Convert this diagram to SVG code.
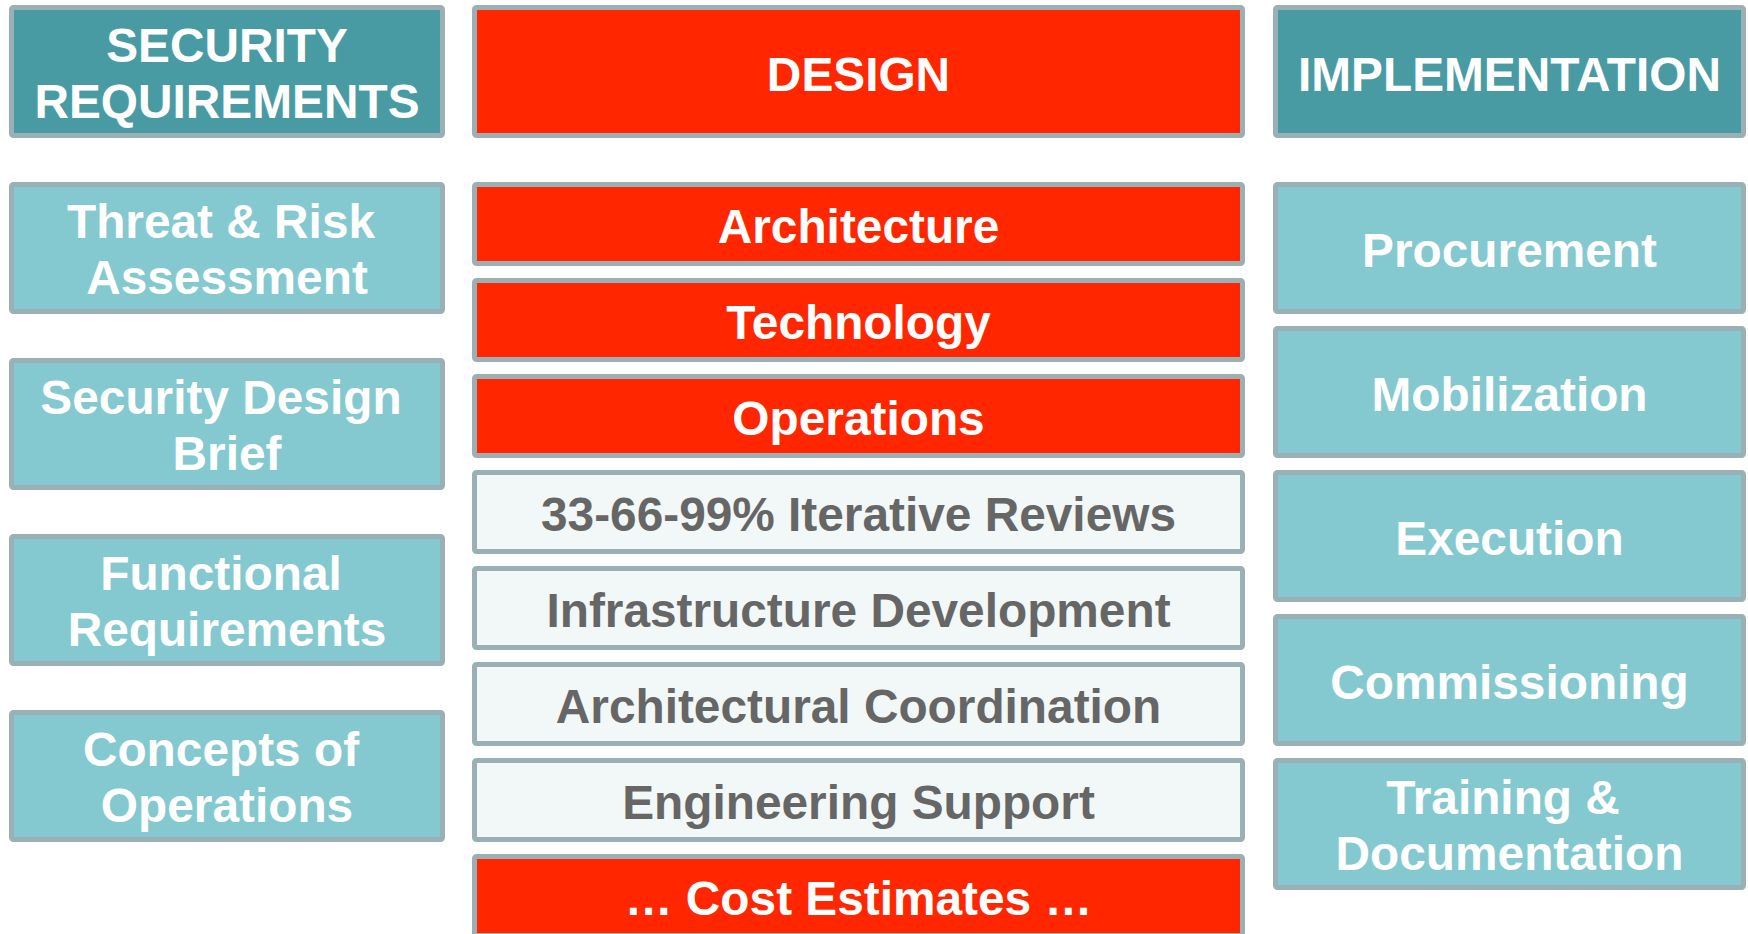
<svg xmlns="http://www.w3.org/2000/svg" width="1748" height="934" viewBox="0 0 1748 934">
<style>
  .box{stroke:#9AB0B4;stroke-width:5}
  .hdr{fill:#499BA3}
  .lt{fill:#84C9CF}
  .red{fill:#FF2600}
  .pale{fill:#F2F7F7}
  text{font-family:"Liberation Sans",Arial,sans-serif;font-weight:bold;font-size:47.8px;text-anchor:middle;fill:#FFFFFF}
  .gray{fill:#666666}
</style>
<rect width="1748" height="934" fill="#FFFFFF"/>
<g id="connectors"/>
<!-- Left column -->
<g id="security-requirements">
  <rect class="box hdr" x="11.5" y="7.5" width="431" height="128" rx="2"/>
  <text x="227" y="62">SECURITY</text>
  <text x="227" y="118">REQUIREMENTS</text>
</g>
<g id="threat-risk">
  <rect class="box lt" x="11.5" y="184.5" width="431" height="127" rx="2"/>
  <text x="221" y="238">Threat &amp; Risk</text>
  <text x="227" y="294">Assessment</text>
</g>
<g id="security-design-brief">
  <rect class="box lt" x="11.5" y="360.5" width="431" height="127" rx="2"/>
  <text x="221" y="414">Security Design</text>
  <text x="227" y="470">Brief</text>
</g>
<g id="functional-requirements">
  <rect class="box lt" x="11.5" y="536.5" width="431" height="127" rx="2"/>
  <text x="221" y="590">Functional</text>
  <text x="227" y="646">Requirements</text>
</g>
<g id="concepts-of-operations">
  <rect class="box lt" x="11.5" y="712.5" width="431" height="127" rx="2"/>
  <text x="221" y="766">Concepts of</text>
  <text x="227" y="822">Operations</text>
</g>
<!-- Center column -->
<g id="design">
  <rect class="box red" x="474.5" y="7.5" width="768" height="128" rx="2"/>
  <text x="858.5" y="91">DESIGN</text>
</g>
<g id="architecture">
  <rect class="box red" x="474.5" y="184.5" width="768" height="79" rx="2"/>
  <text x="858.5" y="243">Architecture</text>
</g>
<g id="technology">
  <rect class="box red" x="474.5" y="280.5" width="768" height="79" rx="2"/>
  <text x="858.5" y="339">Technology</text>
</g>
<g id="operations">
  <rect class="box red" x="474.5" y="376.5" width="768" height="79" rx="2"/>
  <text x="858.5" y="435">Operations</text>
</g>
<g id="iterative-reviews">
  <rect class="box pale" x="474.5" y="472.5" width="768" height="79" rx="2"/>
  <text class="gray" x="858.5" y="531">33-66-99% Iterative Reviews</text>
</g>
<g id="infrastructure-development">
  <rect class="box pale" x="474.5" y="568.5" width="768" height="79" rx="2"/>
  <text class="gray" x="858.5" y="627">Infrastructure Development</text>
</g>
<g id="architectural-coordination">
  <rect class="box pale" x="474.5" y="664.5" width="768" height="79" rx="2"/>
  <text class="gray" x="858.5" y="723">Architectural Coordination</text>
</g>
<g id="engineering-support">
  <rect class="box pale" x="474.5" y="760.5" width="768" height="79" rx="2"/>
  <text class="gray" x="858.5" y="819">Engineering Support</text>
</g>
<g id="cost-estimates">
  <rect class="box red" x="474.5" y="856.5" width="768" height="79" rx="2"/>
  <text x="858.5" y="915">… Cost Estimates …</text>
</g>
<!-- Right column -->
<g id="implementation">
  <rect class="box hdr" x="1275.5" y="7.5" width="468" height="128" rx="2"/>
  <text x="1509.5" y="91">IMPLEMENTATION</text>
</g>
<g id="procurement">
  <rect class="box lt" x="1275.5" y="184.5" width="468" height="127" rx="2"/>
  <text x="1509.5" y="267">Procurement</text>
</g>
<g id="mobilization">
  <rect class="box lt" x="1275.5" y="328.5" width="468" height="127" rx="2"/>
  <text x="1509.5" y="411">Mobilization</text>
</g>
<g id="execution">
  <rect class="box lt" x="1275.5" y="472.5" width="468" height="127" rx="2"/>
  <text x="1509.5" y="555">Execution</text>
</g>
<g id="commissioning">
  <rect class="box lt" x="1275.5" y="616.5" width="468" height="127" rx="2"/>
  <text x="1509.5" y="699">Commissioning</text>
</g>
<g id="training-documentation">
  <rect class="box lt" x="1275.5" y="760.5" width="468" height="127" rx="2"/>
  <text x="1503" y="814">Training &amp;</text>
  <text x="1509.5" y="870">Documentation</text>
</g>
</svg>
